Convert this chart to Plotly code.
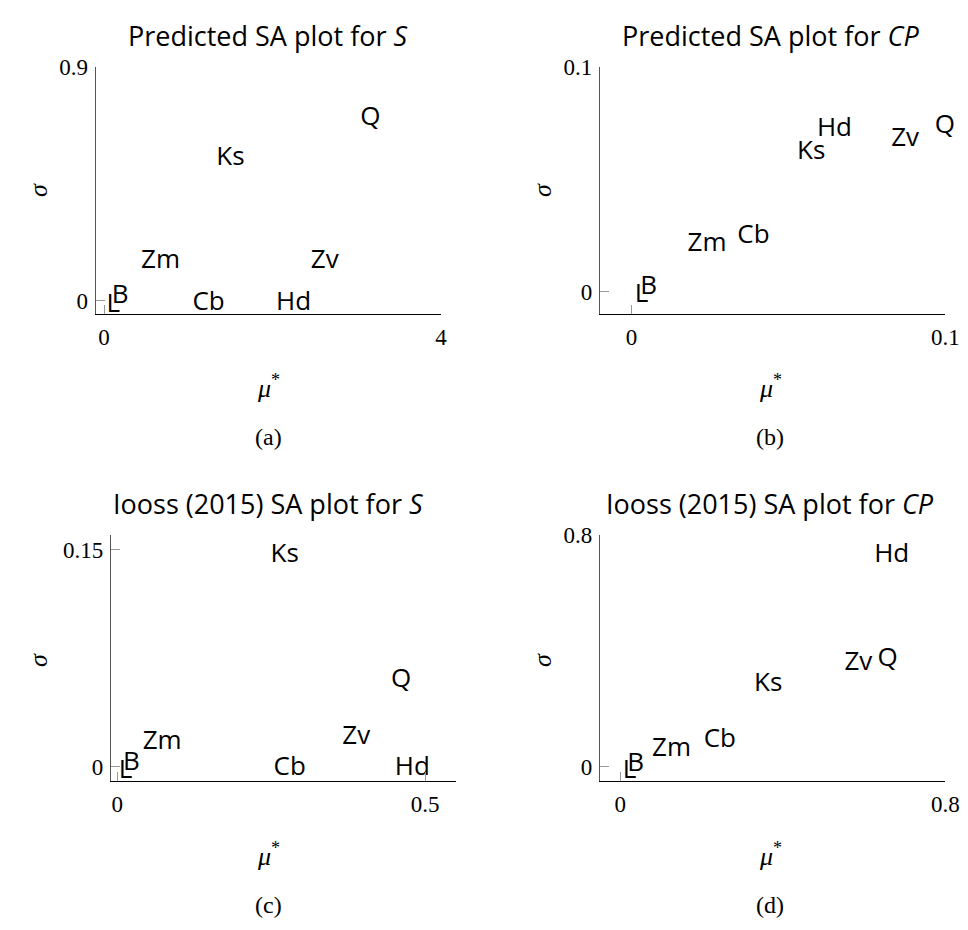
import plotly.graph_objects as go

# ---- data ----
labels = ["Q", "Ks", "Zv", "Zm", "Hd", "Cb", "B", "L"]

a_mu = [3.16, 1.50, 2.62, 0.67, 2.25, 1.24, 0.19, 0.11]
a_sigma = [0.703, 0.549, 0.150, 0.150, -0.010, -0.010, 0.015, -0.017]

b_mu = [0.0999, 0.0573, 0.0872, 0.0241, 0.0647, 0.0389, 0.0055, 0.0032]
b_sigma = [0.0738, 0.0621, 0.0679, 0.0211, 0.0725, 0.0245, 0.0018, -0.0015]

c_mu = [0.461, 0.272, 0.388, 0.073, 0.479, 0.280, 0.023, 0.0135]
c_sigma = [0.0592, 0.146, 0.0203, 0.0168, -0.0011, -0.0011, 0.0023, -0.0035]

d_mu = [0.658, 0.364, 0.586, 0.126, 0.668, 0.245, 0.038, 0.023]
d_sigma = [0.371, 0.284, 0.355, 0.060, 0.728, 0.090, 0.006, -0.017]

titles = ["Predicted SA plot for <i>S</i>", "Predicted SA plot for <i>CP</i>",
          "Iooss (2015) SA plot for <i>S</i>", "Iooss (2015) SA plot for <i>CP</i>"]
captions = ["(a)", "(b)", "(c)", "(d)"]

x_ranges = [[-0.1, 4.0], [-0.01, 0.1], [-0.01, 0.55], [-0.05, 0.8]]
y_ranges = [[-0.052, 0.9], [-0.01, 0.1], [-0.01, 0.16], [-0.05, 0.8]]
x_ticks = [[0, 4], [0, 0.1], [0, 0.5], [0, 0.8]]
y_ticks = [[0, 0.9], [0, 0.1], [0, 0.15], [0, 0.8]]

panels = [(a_mu, a_sigma), (b_mu, b_sigma), (c_mu, c_sigma), (d_mu, d_sigma)]

# page body has an 8px margin; figure sized so the page fits the window
OFF = 8
W, H = 968 - 2 * OFF, 930 - 2 * OFF


def px(x):
    return (x - OFF) / W


def py(y):
    return 1 - (y - OFF) / H


# pixel boxes of each axis area in window coordinates (left, right, top, bottom)
boxes = [(95.7, 441, 67.3, 314.3), (600, 945.3, 67.3, 314.3),
         (111, 456, 535, 781), (600, 945.3, 535, 781)]

sans = "'Open Sans', 'Noto Sans', sans-serif"
serif = "'Liberation Serif', 'DejaVu Serif', serif"

fig = go.Figure()
annotations = []
for i, ((mu, sg), box) in enumerate(zip(panels, boxes)):
    n = "" if i == 0 else str(i + 1)
    xa, ya = "x" + n, "y" + n
    fig.add_trace(go.Scatter(x=mu, y=sg, mode="text", text=labels,
                             textposition="middle center", cliponaxis=False,
                             textfont=dict(family=sans, size=26, color="black"),
                             xaxis=xa, yaxis=ya, showlegend=False, hoverinfo="skip"))
    l, r, t, b = box
    common = dict(showgrid=False, zeroline=False, showline=True, automargin=False,
                  ticks="inside", ticklen=9, tickcolor="#999999", tickwidth=1,
                  tickfont=dict(family=serif, size=23, color="black"),
                  ticklabelstandoff=2)
    fig.layout["xaxis" + n] = dict(domain=[px(l), px(r)], range=x_ranges[i],
                                   tickvals=x_ticks[i], anchor=ya, linecolor="black",
                                   linewidth=1.2, **common)
    fig.layout["yaxis" + n] = dict(domain=[py(b), py(t)], range=y_ranges[i],
                                   tickvals=y_ticks[i], anchor=xa, linecolor="#555555",
                                   linewidth=1.2, **common)
    cx = [268, 770, 268, 770][i]
    ty = [35, 35, 503, 503][i]
    annotations.append(dict(text=titles[i], x=px(cx), y=py(ty), xref="paper", yref="paper",
                            showarrow=False, xanchor="center", yanchor="middle",
                            font=dict(family=sans, size=27, color="black")))
    capy = [437, 437, 905, 905][i]
    annotations.append(dict(text=captions[i], x=px(cx), y=py(capy), xref="paper", yref="paper",
                            showarrow=False, xanchor="center", yanchor="middle",
                            font=dict(family=serif, size=24, color="black")))
    muy = [386, 386, 854, 854][i]
    annotations.append(dict(text="<i>μ</i><sup>*</sup>", x=px(cx), y=py(muy),
                            xref="paper", yref="paper", showarrow=False,
                            xanchor="center", yanchor="middle",
                            font=dict(family=serif, size=26, color="black")))
    sx = [38, 542, 38, 542][i]
    sy = [190, 190, 660, 660][i]
    annotations.append(dict(text="<i>σ</i>", x=px(sx), y=py(sy), xref="paper", yref="paper",
                            showarrow=False, xanchor="center", yanchor="middle", textangle=-90,
                            font=dict(family=serif, size=26, color="black")))

fig.update_layout(width=W, height=H, margin=dict(l=0, r=0, t=0, b=0),
                  plot_bgcolor="white", paper_bgcolor="white",
                  annotations=annotations, showlegend=False)

fig.write_html("out.html")
